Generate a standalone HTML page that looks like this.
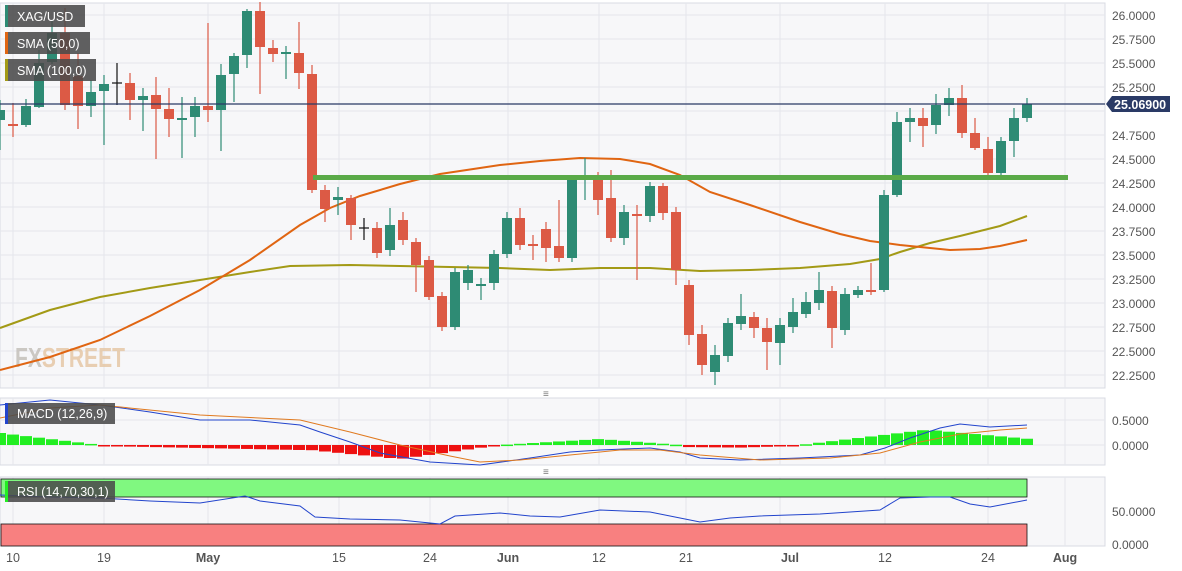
<!DOCTYPE html>
<html><head><meta charset="utf-8"><style>
body{margin:0;background:#fff;font-family:"Liberation Sans",sans-serif}
svg{display:block}
</style></head><body>
<svg id="s" width="1182" height="571" xmlns="http://www.w3.org/2000/svg" font-family="Liberation Sans, sans-serif"></svg>
<script>
const s=document.getElementById('s');let h='';
h+='<rect x="0" y="0" width="1182" height="571" fill="#fff"/>';
h+='<rect x="0" y="3" width="1105" height="385" fill="#f7f7f9" stroke="#d8dbe3"/>';
h+='<rect x="0" y="398" width="1105" height="67" fill="#f7f7f9" stroke="#d8dbe3"/>';
h+='<rect x="0" y="477" width="1105" height="69" fill="#f7f7f9" stroke="#d8dbe3"/>';
const vx=[13,104,208,339,430,508,599,686,780,885,988,1065];
vx.forEach(x=>{h+=`<line x1="${x}" y1="3" x2="${x}" y2="388" stroke="#e4e6ec"/><line x1="${x}" y1="398" x2="${x}" y2="465" stroke="#e4e6ec"/><line x1="${x}" y1="477" x2="${x}" y2="546" stroke="#e4e6ec"/>`});
const lv=['26.0000','25.7500','25.5000','25.2500','25.0000','24.7500','24.5000','24.2500','24.0000','23.7500','23.5000','23.2500','23.0000','22.7500','22.5000','22.2500'];
lv.forEach((t,i)=>{const y=15+i*24;h+=`<line x1="0" y1="${y}" x2="1105" y2="${y}" stroke="#e4e6ec"/>`;if(i!=4)h+=`<text x="1112" y="${y+5}" font-size="12" fill="#555">${t}</text>`});
[420,445].forEach(y=>h+=`<line x1="0" y1="${y}" x2="1105" y2="${y}" stroke="#e4e6ec"/>`);
h+='<text x="1112" y="425" font-size="12" fill="#555">0.5000</text><text x="1112" y="450" font-size="12" fill="#555">0.0000</text>';
h+='<text x="1112" y="516" font-size="12" fill="#555">50.0000</text><text x="1112" y="549" font-size="12" fill="#555">0.0000</text>';
h+='<text x="15" y="367" font-size="28" font-weight="bold" fill="#c4c0ba" opacity="0.85" textLength="110" lengthAdjust="spacingAndGlyphs">FX<tspan fill="#e6c8a6">STREET</tspan></text>';
function pl(p,c,w){return `<polyline fill="none" stroke="${c}" stroke-width="${w}" points="${p.map(a=>a.join(',')).join(' ')}"/>`}
h+=pl([[0,328],[50,310],[100,297],[150,288],[200,280],[250,272],[290,266],[350,265],[400,266],[450,267],[500,268],[550,270],[600,268],[650,268],[700,271],[750,270],[800,268],[850,264],[880,259],[900,252],[930,243],[960,236],[1000,226],[1027,216]],'#a39a16',2);
h+=pl([[0,370],[50,357],[100,340],[150,316],[200,290],[250,260],[300,225],[330,208],[360,196],[400,184],[440,174],[500,165],[540,161],[580,158],[620,159],[650,164],[680,175],[710,192],[750,205],[800,222],[840,234],[870,241],[900,245],[950,250],[980,249],[1000,246],[1027,240]],'#e06512',2);
const C=[[110,120,100,150,1],[124,125,103,137,0],[106,125,99,127,1],[63,107,50,108,1],[33,62,20,64,1],[33,105,8,110,0],[76,106,53,129,0],[92,106,80,117,1],[84,91,75,145,1],[83,84,63,105,2],[83,100,73,120,0],[96,100,88,131,1],[95,109,77,159,0],[109,119,88,137,0],[118,120,97,158,1],[106,117,97,137,1],[106,110,23,122,0],[75,110,64,151,1],[56,74,53,102,1],[11,55,9,68,1],[11,47,2,94,0],[48,54,40,62,0],[52,54,46,79,1],[53,73,22,89,0],[74,190,65,193,0],[190,209,185,222,0],[197,200,187,215,1],[198,225,195,240,0],[228,229,218,240,2],[228,253,222,258,0],[225,250,208,256,1],[220,240,212,245,0],[242,265,238,292,0],[260,297,256,300,0],[296,327,292,331,0],[272,327,268,330,1],[270,283,265,290,1],[284,285,278,300,1],[254,283,250,290,1],[218,254,212,258,1],[218,245,208,250,0],[244,246,235,260,0],[229,248,222,262,0],[246,258,200,262,0],[180,258,175,262,1],[178,180,158,200,1],[178,200,172,215,0],[198,238,170,242,0],[212,238,205,245,1],[214,216,205,280,0],[186,216,182,222,1],[186,213,183,220,0],[212,270,207,285,0],[285,335,280,345,0],[334,365,325,375,0],[355,372,345,385,1],[323,356,318,362,1],[316,324,294,330,1],[317,328,312,338,0],[328,342,318,370,0],[325,343,318,365,1],[312,327,298,333,1],[302,314,292,318,1],[290,303,272,310,1],[291,328,286,348,0],[294,330,288,335,1],[290,295,286,298,1],[290,292,263,295,0],[195,290,190,292,1],[122,195,112,197,1],[118,122,108,142,1],[118,126,108,147,0],[105,125,94,134,1],[98,105,88,116,1],[98,133,85,138,0],[133,148,118,150,0],[149,173,137,176,0],[141,173,137,176,1],[118,141,108,157,1],[104,118,98,122,1]];
C.forEach((c,i)=>{const x=i*13;const col=c[4]==1?'#2e8b74':c[4]==0?'#dc5a45':'#111';
h+=`<line x1="${x}" y1="${c[2]}" x2="${x}" y2="${c[3]}" stroke="${col}" stroke-width="1.2"/>`;
if(c[4]==2)h+=`<line x1="${x-5}" y1="${c[0]}" x2="${x+5}" y2="${c[0]}" stroke="${col}" stroke-width="1.2"/>`;
else h+=`<rect x="${x-5}" y="${c[0]}" width="10" height="${Math.max(2,c[1]-c[0])}" fill="${col}"/>`;});
h+='<rect x="313" y="175" width="755" height="5" fill="#5aaa48"/>';
h+='<line x1="0" y1="104" x2="1105" y2="104" stroke="#2a3a66" stroke-width="1.2"/>';
h+='<path d="M1106 104 L1112 96 L1170 96 L1170 112 L1112 112 Z" fill="#2a3a66"/><text x="1114" y="109" font-size="12.5" font-weight="bold" fill="#fff">25.06900</text>';
function lg(y,w,t,c){return `<rect x="5" y="${y}" width="${w}" height="22" fill="#4a4a4a" opacity="0.88"/><rect x="5" y="${y}" width="3" height="22" fill="${c}"/><text x="17" y="${y+16}" font-size="12.5" fill="#fff">${t}</text>`}
h+=lg(5,80,'XAG/USD','#2e8b74')+lg(32,85,'SMA (50,0)','#e06512')+lg(59,91,'SMA (100,0)','#a39a16');
h+='<text x="543" y="397" font-size="10" fill="#777">≡</text><text x="543" y="475" font-size="10" fill="#777">≡</text>';
let mh=[];for(let i=0;i<80;i++){const x=i*13;let v;
if(x<100)v=12-x*0.12;else if(x<300)v=-(x-100)*0.02-1;else if(x<400)v=-4-(x-300)*0.1;else if(x<500)v=-14+(x-400)*0.14;else if(x<600)v=(x-500)*0.06;else if(x<680)v=6-(x-600)*0.075;else if(x<800)v=-2-(x-680)*0.01+ (x>740?(x-740)*0.04:0);else if(x<930)v=(x-800)*0.12;else v=15-(x-930)*0.09;
const y=v>=0?445-v:445;mh.push(`<rect x="${x-6}" y="${y}" width="12" height="${Math.max(1.5,Math.abs(v))}" fill="${v>=0?'#22ee22':'#ee1111'}"/>`)}
h+=mh.join('');
h+=pl([[0,405],[50,400],[100,405],[150,412],[200,420],[250,420],[300,425],[320,432],[350,442],[380,453],[430,462],[480,465],[530,458],[570,452],[600,450],[650,448],[680,452],[700,458],[740,460],[800,458],[860,455],[885,448],[910,438],[940,428],[960,424],[990,427],[1027,425]],'#2244cc',1);
h+=pl([[0,418],[50,408],[100,405],[200,415],[300,420],[350,432],[400,445],[450,456],[480,462],[520,460],[560,456],[620,450],[660,450],[700,455],[760,460],[830,458],[880,453],[920,442],[960,434],[1000,430],[1027,428]],'#e07a20',1);
h+='<rect x="5" y="403" width="110" height="21" fill="#4a4a4a" opacity="0.88"/><rect x="5" y="403" width="3" height="21" fill="#2244cc"/><text x="17" y="418" font-size="12.5" fill="#fff">MACD (12,26,9)</text>';
h+='<rect x="1" y="479" width="1026" height="18" fill="#80f880" stroke="#111" stroke-width="0.8"/>';
h+='<rect x="1" y="524" width="1026" height="22" fill="#f88080" stroke="#111" stroke-width="0.8"/>';
h+=pl([[0,495],[50,497],[100,498],[150,501],[200,503],[245,496],[260,501],[300,506],[315,517],[350,519],[400,520],[440,524],[455,516],[500,513],[530,516],[560,517],[600,510],[650,512],[680,518],[700,522],[730,518],[760,516],[820,514],[880,510],[900,498],[930,497],[950,497],[970,504],[990,507],[1027,500]],'#2244cc',1);
h+='<rect x="5" y="481" width="110" height="21" fill="#4a4a4a" opacity="0.88"/><rect x="5" y="481" width="3" height="21" fill="#22ee22"/><text x="17" y="496" font-size="12.5" fill="#fff">RSI (14,70,30,1)</text>';
[['10',13],['19',104],['May',208,1],['15',339],['24',430],['Jun',508,1],['12',599],['21',686],['Jul',790,1],['12',885],['24',988],['Aug',1065,1]].forEach(a=>{h+=`<text x="${a[1]}" y="562" font-size="12.5" text-anchor="middle" fill="#555" ${a[2]?'font-weight="bold"':''}>${a[0]}</text>`});
s.innerHTML=h;
</script>
</body></html>
